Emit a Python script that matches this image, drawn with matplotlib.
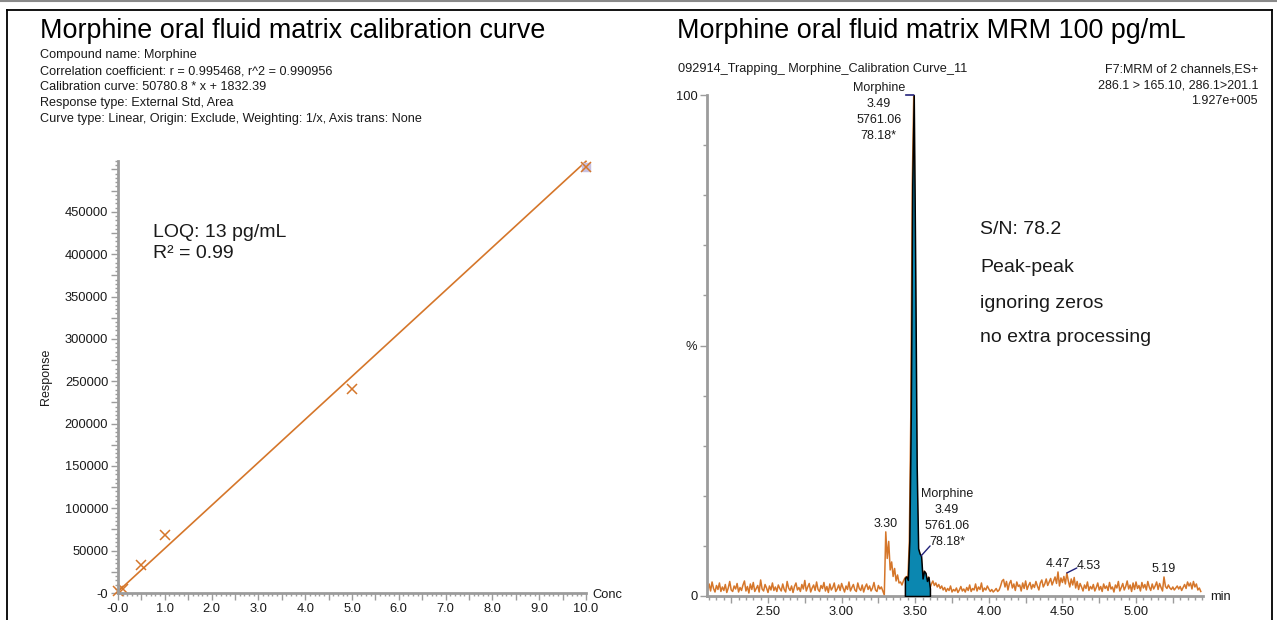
import numpy as np
import matplotlib.pyplot as plt
from matplotlib.lines import Line2D
from matplotlib.ticker import MultipleLocator, FixedLocator, FuncFormatter

plt.rcParams['font.family'] = ['Liberation Sans', 'DejaVu Sans']

W, H = 1277, 620

# ---- calibration curve data ----
conc = [0.01, 0.1, 0.5, 1.0, 5.0, 10.0]
response = [2300, 5200, 33500, 68000, 241000, 503000]
slope = 50780.8
intercept = 1832.39
fit_conc = [0.0, 10.0]

# ---- chromatogram (% intensity, one value every 0.01 min from 2.09 min) ----
t_start = 2.09
t_step = 0.01
intensity = [
    1.2, 2.4, 1.0, 2.8, 1.5, 0.8, 2.1, 1.3, 2.6, 0.9,
    1.8, 1.1, 2.3, 0.7, 1.6, 2.9, 1.2, 0.9, 2.0, 1.4,
    2.5, 0.8, 1.7, 1.1, 2.2, 3.0, 1.0, 1.9, 0.6, 2.4,
    1.3, 2.7, 0.9, 1.5, 2.1, 0.8, 3.2, 1.4, 1.0, 2.3,
    1.6, 0.7, 2.0, 1.2, 2.6, 1.1, 1.8, 0.9, 2.2, 1.5,
    1.0, 2.4, 1.3, 0.8, 2.9, 1.6, 1.1, 2.0, 0.7, 1.9,
    2.6, 1.2, 1.7, 0.9, 2.3, 1.4, 3.1, 1.0, 1.8, 2.5,
    0.8, 1.6, 2.2, 1.1, 2.8, 1.3, 0.9, 2.1, 1.5, 2.7,
    1.0, 1.9, 0.7, 2.4, 1.2, 1.7, 2.6, 0.9, 1.4, 2.2,
    1.1, 2.5, 1.6, 0.8, 2.0, 1.3, 2.8, 1.0, 1.7, 2.3,
    1.2, 0.9, 2.6, 1.5, 1.1, 2.2, 0.8, 1.8, 2.4, 1.3,
    2.0, 1.0, 1.6, 2.7, 1.2, 0.9, 2.1, 1.4, 1.8, 1.0,
    0.2,
    12.8, 7.5, 10.9, 5.2, 6.8, 3.9, 5.5, 3.0, 4.2, 2.6,
    2.8, 2.2, 3.0,
    3.6, 3.9, 3.2, 11.0, 36.0, 82.0, 100.0, 66.0, 26.0, 9.5,
    8.5, 8.0, 3.5, 5.0, 4.6, 3.0, 3.8, 1.5,
    2.4, 3.0, 2.1, 2.6, 1.8, 2.3, 1.5, 2.0, 1.2, 1.7,
    0.9, 1.5, 1.1, 2.0, 0.8, 1.3, 1.0, 1.6, 0.7, 1.2,
    1.9, 1.0, 1.4, 0.8, 1.7, 1.1, 2.2, 0.9, 1.5, 1.2,
    2.4, 1.0, 1.8, 1.3, 2.6, 0.9, 1.6, 1.2, 2.0, 1.4,
    0.9, 1.3, 0.8, 1.1, 1.5, 0.9, 1.2, 2.0, 3.0, 3.3,
    1.8, 2.9, 1.2, 2.5, 3.1, 1.6, 2.4, 1.1, 2.8, 1.9,
    2.2, 1.0, 2.6, 1.5, 3.0, 1.3, 2.1, 2.7, 1.4, 2.3,
    1.7, 2.9, 2.0, 1.2, 2.6, 3.2, 1.8, 2.4, 3.4, 2.1,
    2.8, 3.5, 2.2, 3.0, 3.8, 2.5, 4.8, 2.0, 3.6, 2.7,
    3.9, 2.4, 4.6, 3.0, 1.8, 3.4, 2.2, 3.7, 1.6, 2.9,
    1.3, 2.5, 1.8, 1.0, 2.2, 1.5, 2.8, 1.1, 1.9, 1.4,
    2.3, 1.0, 1.7, 2.6, 1.2, 1.9, 0.9, 2.4, 1.5, 2.0,
    1.1, 2.7, 1.4, 1.8, 0.8, 2.2, 1.6, 2.9, 1.0, 1.7,
    2.5, 1.2, 1.9, 3.0, 1.4, 2.2, 0.9, 2.6, 1.3, 2.8,
    1.5, 2.1, 1.0, 2.7, 1.6, 2.3, 1.2, 2.9, 1.8, 1.1,
    2.4, 1.4, 2.0, 2.8, 1.3, 2.5, 1.7, 1.0, 3.8, 1.9,
    1.5, 2.2, 1.6, 1.3, 1.8, 1.2, 1.6, 2.0, 1.4, 1.9,
    1.1, 1.7, 2.3, 1.5, 2.8, 2.0, 2.6, 1.4, 2.9, 1.8,
    2.4, 1.2, 1.6, 0.9,
]
peak_start, peak_end = 3.43, 3.60
small_peaks = [3.30, 4.47, 5.19]

orange = '#D5762A'
teal = '#0B87B0'
navy = '#22227a'
grey = '#9c9c9c'
ink = '#1a1a1a'

def fx(px):
    return px / W

def fy(py):
    return 1 - py / H

fig = plt.figure(figsize=(W / 100, H / 100), dpi=100)

# outer frame
fig.add_artist(Line2D([0, 1], [fy(1), fy(1)], color='#8a8a8a', lw=1.5))
fig.add_artist(Line2D([fx(7), fx(7)], [0, fy(10)], color='black', lw=1.3))
fig.add_artist(Line2D([fx(7), fx(1272)], [fy(10), fy(10)], color='black', lw=1.3))
fig.add_artist(Line2D([fx(1272), fx(1272)], [fy(10), 0], color='black', lw=1.3))

# ================= left: calibration curve =================
ax1 = fig.add_axes([fx(118), fy(593), 468 / W, 432 / H])
ax1.set_xlim(0, 10)
ax1.set_ylim(0, 510000)
fit_resp = [slope * c + intercept for c in fit_conc]
ax1.plot(fit_conc, fit_resp, color=orange, lw=1.2, clip_on=False)
ax1.plot(conc[-1], response[-1], marker='s', ms=6, color='#c8c0e0', ls='none', clip_on=False)
ax1.plot(conc, response, marker='x', ms=7, mew=1.1, color=orange, ls='none', clip_on=False)

for s in ['top', 'right']:
    ax1.spines[s].set_visible(False)
for s in ['left', 'bottom']:
    ax1.spines[s].set_color(grey)
    ax1.spines[s].set_linewidth(2)

ax1.xaxis.set_major_locator(MultipleLocator(0.5))
ax1.xaxis.set_minor_locator(MultipleLocator(0.1))
ax1.xaxis.set_major_formatter(FuncFormatter(
    lambda v, p: '' if abs(v - round(v)) > 1e-6 else ('-0.0' if abs(v) < 1e-6 else f'{v:.1f}')))
ax1.yaxis.set_major_locator(MultipleLocator(25000))
ax1.yaxis.set_minor_locator(MultipleLocator(5000))
ax1.yaxis.set_major_formatter(FuncFormatter(
    lambda v, p: '' if (round(v) % 50000 or v > 460000) else ('-0' if abs(v) < 1 else f'{v:.0f}')))
ax1.tick_params(which='both', direction='out', color=grey, labelsize=9.3, labelcolor=ink)
ax1.tick_params(which='major', length=5, width=1, pad=2)
ax1.tick_params(which='minor', length=2.5, width=1)

fig.text(fx(46), fy(377), 'Response', rotation=90, ha='center', va='center', fontsize=9, color=ink)
fig.text(fx(592), fy(595), 'Conc', ha='left', va='center', fontsize=9.3, color=ink)

fig.text(fx(40), fy(31), 'Morphine oral fluid matrix calibration curve', fontsize=19.4, va='center', color='black')
info = ['Compound name: Morphine',
        'Correlation coefficient: r = 0.995468, r^2 = 0.990956',
        'Calibration curve: 50780.8 * x + 1832.39',
        'Response type: External Std, Area',
        'Curve type: Linear, Origin: Exclude, Weighting: 1/x, Axis trans: None']
for i, line in enumerate(info):
    fig.text(fx(40), fy(55 + 16 * i), line, fontsize=9.1, va='center', color=ink)
fig.text(fx(153), fy(232), 'LOQ: 13 pg/mL', fontsize=14, va='center', color=ink)
fig.text(fx(153), fy(254), 'R\u00b2 = 0.99', fontsize=14, va='center', color=ink)

# ================= right: MRM chromatogram =================
ax2 = fig.add_axes([fx(707), fy(596), 496 / W, 501 / H])
t = t_start + t_step * np.arange(len(intensity))
y = np.array(intensity)
ax2.plot(t, y, color=orange, lw=1.1)
inpk = (t >= peak_start - 1e-9) & (t <= peak_end + 1e-9)
ax2.fill_between(t[inpk], 0, y[inpk], facecolor=teal, edgecolor='black', lw=1.1, zorder=3)
ax2.set_xlim(2.0856, 5.455)
ax2.set_ylim(0, 100)

for s in ['top', 'right']:
    ax2.spines[s].set_visible(False)
for s in ['left', 'bottom']:
    ax2.spines[s].set_color(grey)
    ax2.spines[s].set_linewidth(2)

ax2.xaxis.set_major_locator(MultipleLocator(0.25))
ax2.xaxis.set_minor_locator(MultipleLocator(0.05))
ax2.xaxis.set_major_formatter(FuncFormatter(
    lambda v, p: f'{v:.2f}' if abs(v * 2 - round(v * 2)) < 1e-6 else ''))
ax2.yaxis.set_major_locator(FixedLocator([0, 50, 100]))
ax2.yaxis.set_minor_locator(MultipleLocator(10))
ax2.yaxis.set_major_formatter(FuncFormatter(lambda v, p: {0: '0', 50: '%', 100: '100'}.get(int(round(v)), '')))
ax2.tick_params(which='both', direction='out', color=grey, labelsize=9.3, labelcolor=ink)
ax2.tick_params(which='major', length=5, width=1, pad=2)
ax2.tick_params(which='minor', length=3, width=1)

fig.text(fx(1210), fy(597), 'min', ha='left', va='center', fontsize=9.3, color=ink)

# peak labels
def val_at(tv):
    return y[int(round((tv - t_start) / t_step))]

apex_t = t[np.argmax(y)]
apex_y = y.max()
top_lines = ['Morphine', '3.49', '5761.06', '78.18*']
for i, s in enumerate(top_lines):
    ax2.annotate(s, (apex_t, apex_y), xytext=(-35, 7 - 16 * i), textcoords='offset pixels',
                 ha='center', va='center', fontsize=9, color=ink, annotation_clip=False)
ax2.annotate('', (apex_t, apex_y), xytext=(-8, 0), textcoords='offset pixels',
             arrowprops=dict(arrowstyle='-', color=navy, lw=1.2, shrinkA=0, shrinkB=0),
             annotation_clip=False)

sh_t = 3.54
sh_y = val_at(sh_t)
for i, s in enumerate(top_lines):
    ax2.annotate(s, (sh_t, sh_y), xytext=(26, 62 - 16 * i), textcoords='offset pixels',
                 ha='center', va='center', fontsize=9, color=ink)
ax2.annotate('', (sh_t, sh_y), xytext=(9, 10), textcoords='offset pixels',
             arrowprops=dict(arrowstyle='-', color=navy, lw=1, shrinkA=0, shrinkB=0))

for pt in small_peaks:
    ax2.annotate(f'{pt:.2f}', (pt, val_at(pt)), xytext=(0, 8), textcoords='offset pixels',
                 ha='center', va='center', fontsize=9, color=ink)
ax2.annotate('4.53', (4.53, val_at(4.53)), xytext=(22, 7), textcoords='offset pixels',
             ha='center', va='center', fontsize=9, color=ink)
ax2.annotate('', (4.53, val_at(4.53)), xytext=(10, 5), textcoords='offset pixels',
             arrowprops=dict(arrowstyle='-', color=navy, lw=1, shrinkA=0, shrinkB=0))

fig.text(fx(677), fy(31), 'Morphine oral fluid matrix MRM 100 pg/mL', fontsize=19.4, va='center', color='black')
fig.text(fx(678), fy(69), '092914_Trapping_ Morphine_Calibration Curve_11', fontsize=9.2, va='center', color=ink)
for i, s in enumerate(['F7:MRM of 2 channels,ES+', '286.1 > 165.10, 286.1>201.1', '1.927e+005']):
    fig.text(fx(1258), fy(69 + 16 * i), s, fontsize=9.0, ha='right', va='center', color=ink)
for yy, s in zip([230, 267, 303, 338], ['S/N: 78.2', 'Peak-peak', 'ignoring zeros', 'no extra processing']):
    fig.text(fx(980), fy(yy), s, fontsize=14, va='center', color=ink)

fig.savefig('out.png', dpi=100)
